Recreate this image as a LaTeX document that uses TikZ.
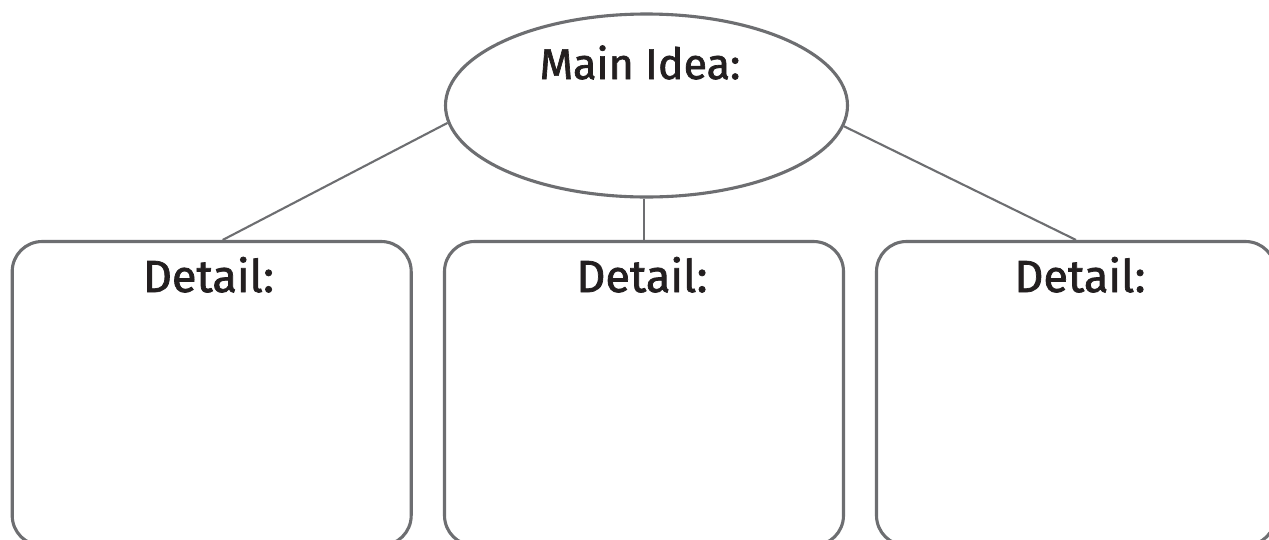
\documentclass[tikz,border=0pt]{standalone}
\usepackage{fontspec}
\setmainfont{Fira Sans}
\newfontfamily\labelfont{Fira Sans}[BoldFont={Fira Sans}, BoldFeatures={FakeBold=1.6}]
\usetikzlibrary{shapes.geometric,calc}
\definecolor{edgegray}{HTML}{6D6E71}
\definecolor{inkblack}{HTML}{231F20}
\tikzset{
  outline/.style={draw=edgegray, line width=3.1pt},
  link/.style={draw=edgegray, line width=2.1pt},
  ideabubble/.style={outline, ellipse, minimum width=402pt, minimum height=183pt, inner sep=0pt},
  detailbox/.style={outline, rectangle, rounded corners=30pt, minimum width=399pt, minimum height=304pt, inner sep=0pt},
  heading/.style={text=inkblack, anchor=base, inner sep=0pt, font=\labelfont\bfseries\fontsize{43}{50}\selectfont},
  subheading/.style={text=inkblack, anchor=base, inner sep=0pt, font=\labelfont\bfseries\fontsize{45}{54}\selectfont}
}
\begin{document}
\begin{tikzpicture}[x=1pt,y=-1pt]
  \useasboundingbox[fill=white] (0,0) rectangle (1269,539);
  \clip (0,0) rectangle (1269,539);

  % central idea
  \node[ideabubble] (main) at (646.5,105.5) {};
  \node[heading] (mainlabel) at (640,79) {Main Idea:};

  % the three detail boxes
  \node[detailbox] (b1) at (211.7,393.5) {};
  \node[detailbox] (b2) at (644,393.5) {};
  \node[detailbox] (b3) at (1076,393.5) {};

  \node[subheading] (d1) at (208.5,292) {Detail:};
  \node[subheading] (d2) at (642,292) {Detail:};
  \node[subheading] (d3) at (1080,292) {Detail:};

  % connectors
  \coordinate (t1) at ($(b1.north)+(11,0)$);
  \draw[link] (main.185.5) -- (t1);
  \draw[link] (b2.north) -- (b2.north |- main.south);
  \draw[link] (main.354.4) -- (b3.north);
\end{tikzpicture}
\end{document}
